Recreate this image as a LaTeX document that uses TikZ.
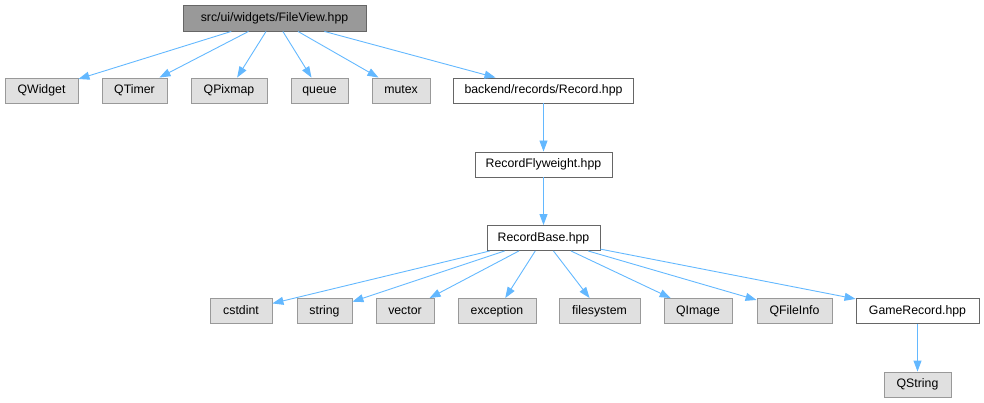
\documentclass[tikz,border=0pt]{standalone}
\usepackage{fontspec}
\setmainfont{Liberation Sans}
\usepackage{xcolor}
\definecolor{dxedge}{HTML}{63B8FF}
\definecolor{dxgrayfill}{HTML}{E0E0E0}
\definecolor{dxgrayline}{HTML}{999999}
\definecolor{dxdarkline}{HTML}{666666}
\usetikzlibrary{arrows.meta}

\begin{document}
\begin{tikzpicture}[x=1pt, y=-1pt,
    every node/.style={font=\fontsize{12.3}{14}\selectfont, inner sep=0pt,
      text height=9pt, text depth=2.6pt,
      minimum height=25pt, line width=0.9pt},
    extnode/.style={draw=dxgrayline, fill=dxgrayfill},
    filenode/.style={draw=dxdarkline, fill=white},
    mainnode/.style={draw=dxdarkline, fill=dxgrayline},
    incl/.style={draw=dxedge, line width=0.9pt,
      -{Triangle[length=11pt, width=8pt]}}]
  \useasboundingbox (0,0) rectangle (984,403);

  % Main file
  \node[mainnode, minimum width=183pt, minimum height=26pt] (fileview) at (274.5,18) {src/ui/widgets/FileView.hpp};

  % Direct includes
  \node[extnode, minimum width=73pt] (qwidget) at (41.5,90.5) {QWidget};
  \node[extnode, minimum width=65pt] (qtimer)  at (134.5,90.5) {QTimer};
  \node[extnode, minimum width=76pt] (qpixmap) at (229,90.5) {QPixmap};
  \node[extnode, minimum width=57pt] (queue)   at (319.5,90.5) {queue};
  \node[extnode, minimum width=58pt] (mutex)   at (401,90.5) {mutex};
  \node[filenode, minimum width=180pt] (record) at (543.5,90.5) {backend/records/Record.hpp};

  % Record chain
  \node[filenode, minimum width=137pt] (flyweight)  at (543.5,164.5) {RecordFlyweight.hpp};
  \node[filenode, minimum width=113pt] (recordbase) at (543.5,238) {RecordBase.hpp};

  % RecordBase includes
  \node[extnode, minimum width=62pt] (cstdint)    at (241,311) {cstdint};
  \node[extnode, minimum width=55pt] (string)     at (324.5,311) {string};
  \node[extnode, minimum width=58pt] (vector)     at (405,311) {vector};
  \node[extnode, minimum width=78pt] (exception)  at (497,311) {exception};
  \node[extnode, minimum width=81pt] (filesystem) at (599.5,311) {filesystem};
  \node[extnode, minimum width=68pt] (qimage)     at (698,311) {QImage};
  \node[extnode, minimum width=75pt] (qfileinfo)  at (794.5,311) {QFileInfo};
  \node[filenode, minimum width=123pt] (gamerecord) at (917.5,311) {GameRecord.hpp};

  % GameRecord include
  \node[extnode, minimum width=67pt] (qstring) at (917.5,384.5) {QString};

  % Edges
  \foreach \dst in {qwidget, qtimer, qpixmap, queue, mutex, record}
    \draw[incl] (fileview) -- (\dst);
  \draw[incl] (record) -- (flyweight);
  \draw[incl] (flyweight) -- (recordbase);
  \foreach \dst in {cstdint, string, vector, exception, filesystem, qimage, qfileinfo, gamerecord}
    \draw[incl] (recordbase) -- (\dst);
  \draw[incl] (gamerecord) -- (qstring);
\end{tikzpicture}
\end{document}
